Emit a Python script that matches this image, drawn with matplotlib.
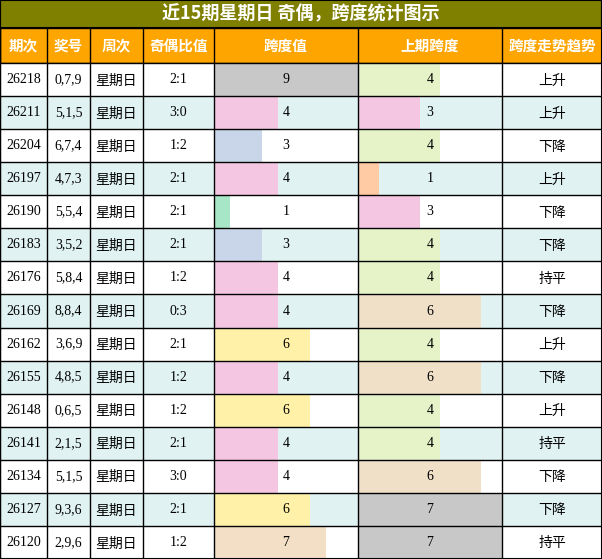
import matplotlib
matplotlib.use("Agg")
import matplotlib.pyplot as plt
from matplotlib.patches import Rectangle

plt.rcParams['font.family'] = ['Noto Sans CJK SC', 'DejaVu Sans']

title = "近15期星期日 奇偶，跨度统计图示"
headers = ["期次", "奖号", "周次", "奇偶比值", "跨度值", "上期跨度", "跨度走势趋势"]
periods = ["26218","26211","26204","26197","26190","26183","26176","26169","26162","26155","26148","26141","26134","26127","26120"]
numbers = ["0,7,9","5,1,5","6,7,4","4,7,3","5,5,4","3,5,2","5,8,4","8,8,4","3,6,9","4,8,5","0,6,5","2,1,5","5,1,5","9,3,6","2,9,6"]
weekday = ["星期日"] * 15
ratios = ["2:1","3:0","1:2","2:1","2:1","2:1","1:2","0:3","2:1","1:2","1:2","2:1","3:0","2:1","1:2"]
spans = [9,4,3,4,1,3,4,4,6,4,6,4,4,6,7]
prev_spans = [4,3,4,1,3,4,4,6,4,6,4,4,6,7,7]
trends = ["上升","上升","下降","上升","下降","下降","持平","下降","上升","下降","上升","持平","下降","下降","持平"]

span_colors = {9:"#c8c8c8",4:"#f4c6e2",3:"#c9d5e8",1:"#a8e6c8",6:"#fff2a8",7:"#f2dfc6"}
prev_colors = {4:"#e6f3c8",3:"#f4c6e2",1:"#ffcba4",6:"#f0e0c8",7:"#c8c8c8"}

W, H = 602, 559
fig = plt.figure(figsize=(W/100, H/100), dpi=100)
ax = fig.add_axes([0, 0, 1, 1])
ax.set_xlim(0, W); ax.set_ylim(H, 0); ax.axis('off')

xs = [0, 47, 90, 143, 214, 358, 502, 602]
title_h, head_y1 = 28, 63
row_h = (H - head_y1) / 15
serif = ['Liberation Serif', 'DejaVu Serif']

ax.add_patch(Rectangle((0, 0), W, title_h, facecolor="#808000", edgecolor="black", lw=1.5))
ax.text(W/2, title_h/2, title, ha='center', va='center', color='white', fontsize=13, fontweight='bold')
ax.add_patch(Rectangle((0, title_h), W, head_y1-title_h, facecolor="#ffa500", edgecolor="black", lw=1))
for i, h in enumerate(headers):
    ax.text((xs[i]+xs[i+1])/2, (title_h+head_y1)/2, h, ha='center', va='center', color='white', fontsize=10.5, fontweight='bold')

unit = (xs[5]-xs[4]) / max(spans)
unit_prev = (xs[6]-xs[5]) / max(prev_spans)
for r in range(15):
    y0 = head_y1 + r*row_h
    yc = y0 + row_h/2
    bg = "white" if r % 2 == 0 else "#e0f2f2"
    ax.add_patch(Rectangle((0, y0), W, row_h, facecolor=bg, edgecolor='none'))
    ax.barh(yc, spans[r]*unit, height=row_h, left=xs[4], color=span_colors[spans[r]], align='center')
    ax.barh(yc, prev_spans[r]*unit_prev, height=row_h, left=xs[5], color=prev_colors[prev_spans[r]], align='center')
    ax.text((xs[0]+xs[1])/2, yc, periods[r], ha='center', va='center', fontsize=10, family=serif)
    ax.text((xs[1]+xs[2])/2, yc, numbers[r], ha='center', va='center', fontsize=10, family=serif)
    ax.text((xs[2]+xs[3])/2, yc+1, weekday[r], ha='center', va='center', fontsize=10)
    ax.text((xs[3]+xs[4])/2, yc, ratios[r], ha='center', va='center', fontsize=10, family=serif)
    ax.text((xs[4]+xs[5])/2, yc, str(spans[r]), ha='center', va='center', fontsize=10, family=serif)
    ax.text((xs[5]+xs[6])/2, yc, str(prev_spans[r]), ha='center', va='center', fontsize=10, family=serif)
    ax.text((xs[6]+xs[7])/2, yc+1, trends[r], ha='center', va='center', fontsize=10)

for r in range(16):
    y = head_y1 + r*row_h
    ax.plot([0, W], [y, y], color='black', lw=1)
for x in xs:
    ax.plot([x, x], [title_h, H], color='black', lw=1)
ax.plot([0, 0], [0, H], color='black', lw=1.5)
ax.plot([W-0.5, W-0.5], [0, H], color='black', lw=1.5)
ax.plot([0, W], [H-0.5, H-0.5], color='black', lw=1.5)

fig.savefig("out.png", dpi=100)
